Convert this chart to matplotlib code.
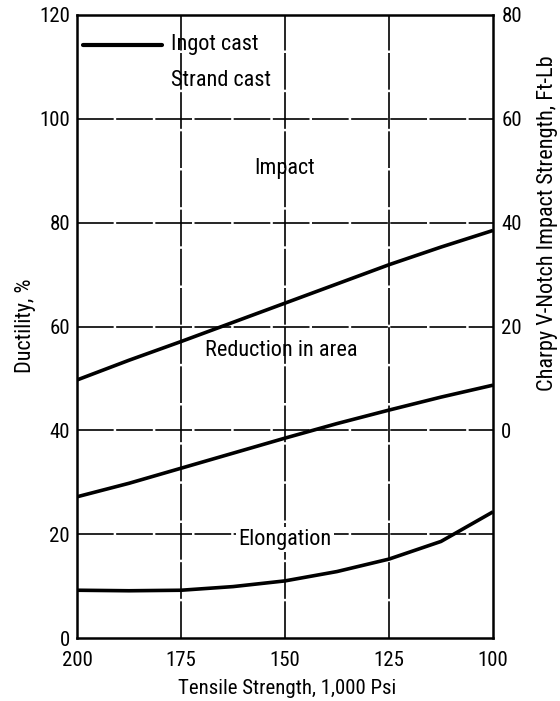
import numpy as np
import matplotlib
matplotlib.use("Agg")
import matplotlib.pyplot as plt

# Data: tensile strength (1,000 psi) vs ductility (%)
tensile = [200, 187.5, 175, 162.5, 150, 137.5, 125, 112.5, 100]
impact = [49.7, 53.5, 57.1, 60.8, 64.5, 68.2, 71.9, 75.3, 78.5]
reduction_area = [27.2, 29.8, 32.7, 35.6, 38.5, 41.3, 43.9, 46.4, 48.7]
elongation = [9.2, 9.1, 9.2, 9.9, 11.0, 12.8, 15.2, 18.6, 24.3]

x_ticks = [200, 175, 150, 125, 100]
y_ticks = [0, 20, 40, 60, 80, 100, 120]
right_ticks = [0, 20, 40, 60, 80]   # Charpy impact, ft-lb (offset 40 from ductility scale)

plt.rcParams["font.family"] = ["Roboto Condensed", "DejaVu Sans"]
fs = 16
tfs = 15

W, H = 560, 701
fig = plt.figure(figsize=(W / 100, H / 100), dpi=100)
ax = fig.add_axes([77 / W, 1 - 638 / H, (493 - 77) / W, (638 - 15) / H])

ax.set_xlim(200, 100)
ax.set_ylim(0, 120)

grid_style = dict(color="black", lw=1.2, ls=(0, (22, 1.5)), zorder=1)
for v in x_ticks[1:-1]:
    ax.axvline(v, **grid_style)
for v in y_ticks[1:-1]:
    ax.axhline(v, **grid_style)

lw = 2.6
for series in (impact, reduction_area, elongation):
    ax.plot(tensile, series, color="black", lw=lw, zorder=3, solid_capstyle="butt")

for s in ax.spines.values():
    s.set_linewidth(1.8)

ax.set_xticks(x_ticks)
ax.set_xticklabels([str(v) for v in x_ticks], fontsize=tfs)
ax.set_yticks(y_ticks)
ax.set_yticklabels([str(v) for v in y_ticks], fontsize=tfs)
ax.tick_params(axis="y", length=0, pad=5)
ax.tick_params(axis="x", length=0, pad=9)

ax2 = ax.twinx()
ax2.set_ylim(-40, 80)
ax2.set_yticks(right_ticks)
ax2.set_yticklabels([str(v) for v in right_ticks], fontsize=tfs)
ax2.tick_params(length=0, pad=6)
for s in ax2.spines.values():
    s.set_visible(False)

# Axis titles
fig.text(287 / W, 1 - 689 / H, "Tensile Strength, 1,000 Psi", fontsize=15,
         ha="center", va="center")
fig.text(25 / W, 1 - 326 / H, "Ductility, %", fontsize=fs, rotation=90,
         ha="center", va="center")
fig.text(547 / W, 1 - 223 / H, "Charpy V-Notch Impact Strength, Ft-Lb", fontsize=fs,
         rotation=90, ha="center", va="center")

# Legend drawn in data space
ax.plot([198.5, 179.5], [114.3, 114.3], color="black", lw=lw + 0.4, solid_capstyle="round", zorder=3)
ax.text(177.3, 114.4, "Ingot cast", fontsize=fs, va="center", ha="left")
ax.text(177.3, 107.3, "Strand cast", fontsize=fs, va="center", ha="left")

# Curve labels
ax.text(150.2, 90.4, "Impact", fontsize=fs, ha="center", va="center")
ax.text(151, 55.3, "Reduction in area", fontsize=fs, ha="center", va="center")
ax.text(150, 18.9, "Elongation", fontsize=fs, ha="center", va="center",
        bbox=dict(facecolor="white", edgecolor="none", pad=1.5), zorder=2)

fig.savefig("out.png", dpi=100)
